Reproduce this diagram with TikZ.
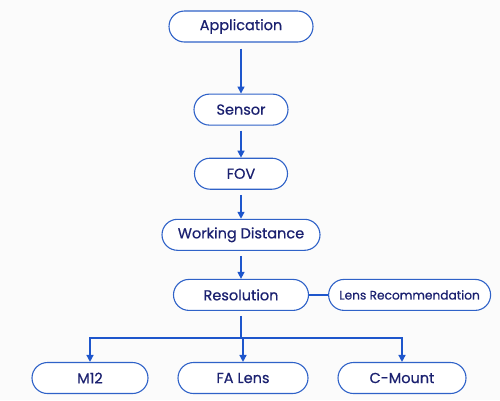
\documentclass[tikz,border=0pt]{standalone}
\usepackage{fontspec}
\setmainfont{Poppins}[BoldFont=Poppins, BoldFeatures={FakeBold=0.6}]
\usepackage{tikz}
\usetikzlibrary{arrows.meta,positioning,calc}
\definecolor{edgeblue}{HTML}{2F62C8}
\definecolor{arrowblue}{HTML}{1E56CC}
\definecolor{inkblue}{HTML}{1B2170}
\tikzset{%
  box/.style={draw=edgeblue,line width=1.1pt,rounded corners=15.5pt,align=center,minimum height=31pt,inner sep=2pt,text=inkblue,fill=white},
  arrow/.style={-{Triangle[length=7pt,width=7pt]},draw=arrowblue,line width=1.4pt},
  link/.style={draw=arrowblue,line width=1.4pt}%
}
\begin{document}
\begin{tikzpicture}[
    font=\fontsize{14.5}{16}\selectfont\bfseries,
    x=1pt, y=1pt
]
\fill[white!97!gray] (0,0) rectangle (500,-400);
\useasboundingbox (0,0) rectangle (500,-400);

% Main chain
\node[box, minimum width=144pt] (app) at (241,-26.5) {Application};
\node[box, minimum width=94pt, below=51pt of app] (sensor) {Sensor};
\node[box, minimum width=93pt, below=32pt of sensor] (fov) {FOV};
\node[box, minimum width=158pt, below=29pt of fov] (wd) {Working Distance};
\node[box, minimum width=135pt, below=28pt of wd] (res) {Resolution};
\node[box, minimum width=162pt, font=\fontsize{12.2}{14}\selectfont\bfseries, right=19pt of res] (lens) {Lens Recommendation};

% Lens types
\node[box, minimum width=116pt] (m12) at (90,-378) {M12};
\node[box, minimum width=130pt] (fa) at (243,-378) {FA Lens};
\node[box, minimum width=128pt] (cm) at (402,-378) {C-Mount};

% Arrows
\draw[arrow, shorten <=6pt] (app) -- (sensor);
\draw[arrow, shorten <=5pt] (sensor) -- (fov);
\draw[arrow, shorten <=5pt] (fov) -- (wd);
\draw[arrow, shorten <=5pt] (wd) -- (res);
\draw[link] (res) -- (lens);

% Branch to lens types
\coordinate (split) at ($(res.south)+(0,-27)$);
\draw[link, shorten <=5pt] (res.south) -- (split);
\draw[arrow] (split) -| (m12.north);
\draw[arrow] (split -| fa.north) -- (fa.north);
\draw[arrow] (split) -| (cm.north);

\end{tikzpicture}
\end{document}
